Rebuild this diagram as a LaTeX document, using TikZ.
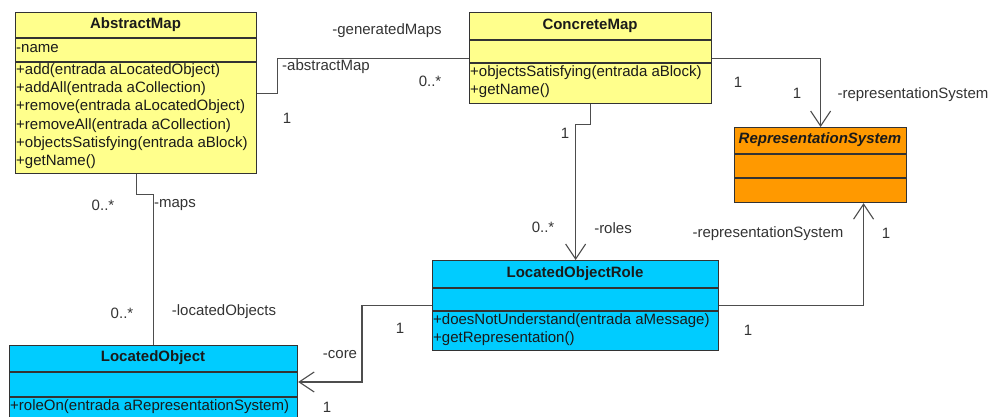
\documentclass[tikz,border=0pt]{standalone}
\usepackage{fontspec}
\setmainfont{Liberation Sans}
\usetikzlibrary{arrows.meta,calc}
\definecolor{cyel}{HTML}{FFFF8C}
\definecolor{corg}{HTML}{FF9900}
\definecolor{ccyn}{HTML}{00CCFF}
\definecolor{cline}{HTML}{4D4D4D}
\definecolor{cbord}{HTML}{333333}
\definecolor{ctxt}{HTML}{1A1A1A}
\definecolor{clbl}{HTML}{333333}
\begin{document}
\begin{tikzpicture}[x=1pt,y=-1pt,
  font=\fontsize{15}{18}\selectfont,
  cls/.style={draw=cbord, line width=1.2pt, anchor=north west, inner sep=0pt},
  cdiv/.style={draw=cbord, line width=1.1pt},
  ttl/.style={font=\fontsize{15}{18}\selectfont\bfseries, text=ctxt, inner sep=0pt},
  mem/.style={anchor=west, text=ctxt, inner sep=0pt},
  lbl/.style={text=clbl, inner sep=0pt},
  conn/.style={draw=cline, line width=1.1pt},
  arr/.style={-{Straight Barb[length=15pt,width=20pt]}}]
\useasboundingbox (0,0) rectangle (992,417);
\clip (0,0) rectangle (992,417);

% AbstractMap
\node[cls, fill=cyel, minimum width=241pt, minimum height=161pt] (am) at (15,12) {};
\draw[cdiv] ([yshift=-26pt]am.north west) -- ([yshift=-26pt]am.north east);
\draw[cdiv] ([yshift=-50pt]am.north west) -- ([yshift=-50pt]am.north east);
\node[ttl] (amt) at (135.5,25) {AbstractMap};
\node[mem] (ama) at (16,49) {-name};
\node[mem] (amm1) at (16,71) {+add(entrada aLocatedObject)};
\node[mem] (amm2) at (16,89) {+addAll(entrada aCollection)};
\node[mem] (amm3) at (16,107) {+remove(entrada aLocatedObject)};
\node[mem] (amm4) at (16,126) {+removeAll(entrada aCollection)};
\node[mem] (amm5) at (16,144) {+objectsSatisfying(entrada aBlock)};
\node[mem] (amm6) at (16,162) {+getName()};

% ConcreteMap
\node[cls, fill=cyel, minimum width=242pt, minimum height=91pt] (cm) at (469,12) {};
\draw[cdiv] ([yshift=-28pt]cm.north west) -- ([yshift=-28pt]cm.north east);
\draw[cdiv] ([yshift=-51pt]cm.north west) -- ([yshift=-51pt]cm.north east);
\node[ttl] (cmt) at (590,26) {ConcreteMap};
\node[mem] (cmm1) at (470,73) {+objectsSatisfying(entrada aBlock)};
\node[mem] (cmm2) at (470,91) {+getName()};

% RepresentationSystem
\node[cls, fill=corg, minimum width=172pt, minimum height=75pt] (rs) at (734,127) {};
\draw[cdiv] ([yshift=-27pt]rs.north west) -- ([yshift=-27pt]rs.north east);
\draw[cdiv] ([yshift=-51pt]rs.north west) -- ([yshift=-51pt]rs.north east);
\node[ttl, font=\fontsize{15}{18}\selectfont\bfseries\itshape] (rst) at (820,140) {RepresentationSystem};

% LocatedObjectRole
\node[cls, fill=ccyn, minimum width=286pt, minimum height=90pt] (lor) at (432,260) {};
\draw[cdiv] ([yshift=-28pt]lor.north west) -- ([yshift=-28pt]lor.north east);
\draw[cdiv] ([yshift=-51pt]lor.north west) -- ([yshift=-51pt]lor.north east);
\node[ttl] (lort) at (575,274) {LocatedObjectRole};
\node[mem] (lorm1) at (433,321) {+doesNotUnderstand(entrada aMessage)};
\node[mem] (lorm2) at (433,339) {+getRepresentation()};

% LocatedObject
\node[cls, fill=ccyn, minimum width=288pt, minimum height=80pt] (lo) at (9,345) {};
\draw[cdiv] ([yshift=-27pt]lo.north west) -- ([yshift=-27pt]lo.north east);
\draw[cdiv] ([yshift=-52pt]lo.north west) -- ([yshift=-52pt]lo.north east);
\node[ttl] (lot) at (153,358) {LocatedObject};
\node[mem] (lom1) at (10,407) {+roleOn(entrada aRepresentationSystem)};

% Connectors
\draw[conn] (am.east) -- ++(20,0) |- (cm.west);
\draw[conn,arr] (cm.east) -| (rs.north);
\draw[conn,arr] (cm.south) -- ++(0,20) -| (lor.north);
\draw[conn,arr] (lor.east) -| ([xshift=43pt]rs.south);
\draw[conn,arr] (lor.west) -- ++(-70,0) |- ([yshift=-37pt]lo.north east);
\draw[conn] (am.south) -- ++(0,20) -| (lo.north);

% Labels
\node[lbl] (l1) at (387,31) {-generatedMaps};
\node[lbl] (l2) at (326,67) {-abstractMap};
\node[lbl] (l3) at (430,81) {0..*};
\node[lbl] (l4) at (287,118) {1};
\node[lbl] (l5) at (738,82) {1};
\node[lbl] (l6) at (797,93) {1};
\node[lbl] (l7) at (913,95) {-representationSystem};
\node[lbl] (l8) at (565,133) {1};
\node[lbl] (l9) at (543,227) {0..*};
\node[lbl] (l10) at (613,228) {-roles};
\node[lbl] (l11) at (768,234) {-representationSystem};
\node[lbl] (l12) at (886,233) {1};
\node[lbl] (l13) at (748,330) {1};
\node[lbl] (l14) at (340,355) {-core};
\node[lbl] (l15) at (400,328) {1};
\node[lbl] (l16) at (327,407) {1};
\node[lbl] (l17) at (103,205) {0..*};
\node[lbl] (l18) at (175,205) {-maps};
\node[lbl] (l19) at (122,313) {0..*};
\node[lbl] (l20) at (224,312) {-locatedObjects};
\end{tikzpicture}
\end{document}
